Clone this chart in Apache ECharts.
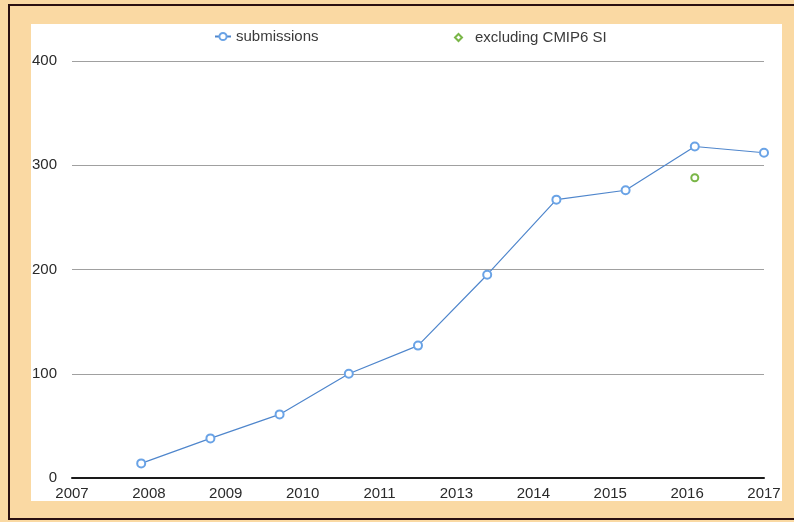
<!DOCTYPE html>
<html>
<head>
<meta charset="utf-8">
<script src="https://cdn.jsdelivr.net/npm/echarts@6/dist/echarts.min.js"></script>
<style>
html,body{margin:0;padding:0;background:#FAD9A3;}
#chart{width:794px;height:522px;}
</style>
</head>
<body>
<div id="chart"></div>
<script>
// Data
var years = [2008, 2009, 2010, 2011, 2012, 2013, 2014, 2015, 2016, 2017];
var submissions = [14, 38, 61, 100, 127, 195, 267, 276, 318, 312];
var excludingYears = [2016];
var excludingValues = [288];
// x tick labels as printed on the reference (9 equal intervals over 2007..2017)
var xTickLabels = ['2007', '2008', '2009', '2010', '2011', '2013', '2014', '2015', '2016', '2017'];
var yTicks = [0, 100, 200, 300, 400];

var xStart = 2007, xEnd = 2017;
var tickStep = (xEnd - xStart) / (xTickLabels.length - 1);
var tickValues = xTickLabels.map(function (_, i) { return i * tickStep; });

var font = 'Liberation Sans, Arial, Helvetica, sans-serif';

var chart = echarts.init(document.getElementById('chart'), null, {renderer: 'canvas'});
chart.setOption({
  backgroundColor: '#FAD9A3',
  animation: false,
  graphic: [
    {type: 'rect', z: -10, shape: {x: 9, y: 5, width: 800, height: 514},
     style: {fill: '#FAD9A3', stroke: '#2a1010', lineWidth: 2}},
    {type: 'rect', z: -9, shape: {x: 31, y: 24, width: 751, height: 477},
     style: {fill: '#ffffff'}}
  ],
  legend: [
    {
      data: ['submissions'],
      left: 209, top: 24,
      itemWidth: 16, itemHeight: 9,
      textStyle: {fontFamily: font, fontSize: 15, color: '#3a3a3a'}
    },
    {
      data: [{name: 'excluding CMIP6 SI', icon: 'emptyDiamond'}],
      left: 449, top: 25,
      itemWidth: 7, itemHeight: 7,
      textStyle: {fontFamily: font, fontSize: 15, color: '#3a3a3a', padding: [0, 0, 0, 8]}
    }
  ],
  grid: {left: 72, right: 30, top: 61, bottom: 44, containLabel: false},
  xAxis: {
    type: 'value',
    min: 0, max: xEnd - xStart,
    axisLine: {show: true, lineStyle: {color: '#1a1a1a', width: 2}},
    axisTick: {show: false},
    splitLine: {show: false},
    axisLabel: {
      customValues: tickValues,
      margin: 8,
      fontFamily: font, fontSize: 15, color: '#2a2a2a',
      formatter: function (v) {
        var idx = Math.round(v / tickStep);
        return xTickLabels[idx];
      }
    }
  },
  yAxis: {
    type: 'value',
    min: yTicks[0], max: yTicks[yTicks.length - 1], interval: 100,
    axisLine: {show: false},
    axisTick: {show: false},
    splitLine: {lineStyle: {color: '#a0a0a0', width: 1}},
    axisLabel: {margin: 15, fontFamily: font, fontSize: 15, color: '#2a2a2a'}
  },
  series: [
    {
      name: 'submissions',
      type: 'line',
      data: years.map(function (y, i) { return [y - xStart, submissions[i]]; }),
      symbol: 'emptyCircle',
      symbolSize: 8,
      color: '#6aa3e6',
      lineStyle: {color: '#4f86cc', width: 1.2},
      itemStyle: {color: '#6aa3e6', borderWidth: 1.5},
      z: 3
    },
    {
      name: 'excluding CMIP6 SI',
      type: 'line',
      data: excludingYears.map(function (y, i) { return [y - xStart, excludingValues[i]]; }),
      symbol: 'emptyCircle',
      symbolSize: 7,
      color: '#7ab648',
      itemStyle: {color: '#7ab648', borderWidth: 1.5},
      lineStyle: {width: 0}
    }
  ]
});
</script>
</body>
</html>
